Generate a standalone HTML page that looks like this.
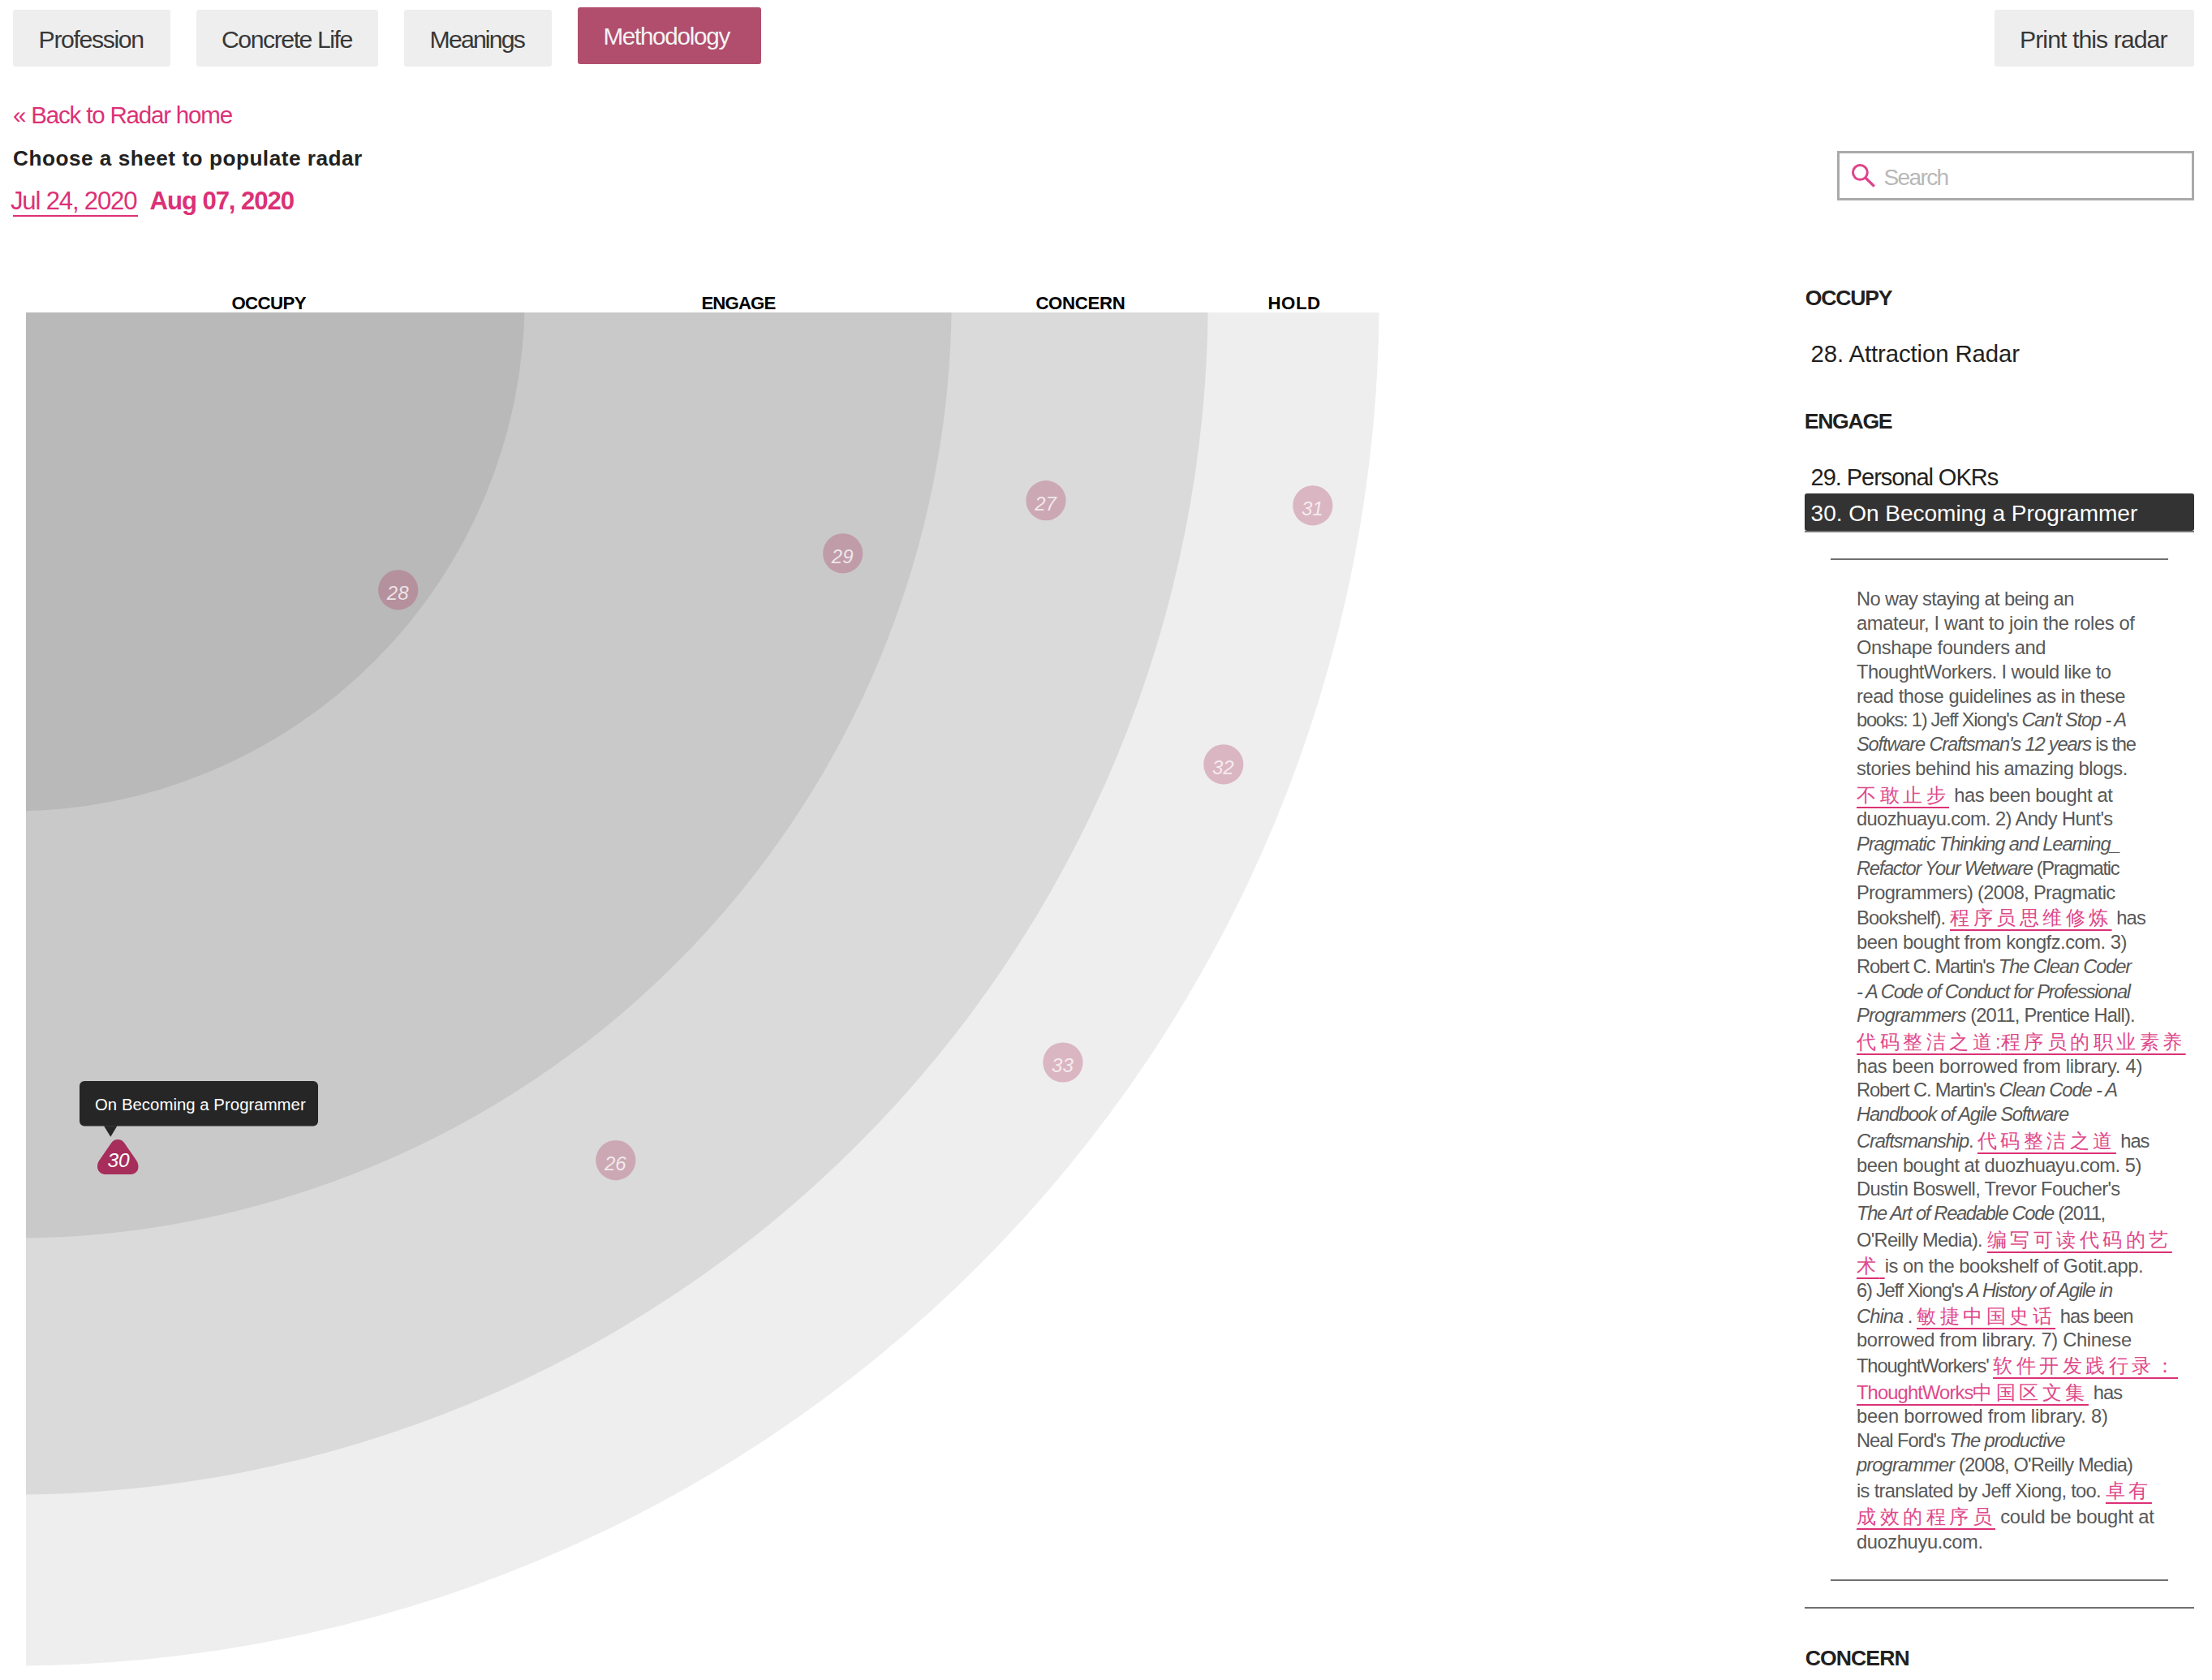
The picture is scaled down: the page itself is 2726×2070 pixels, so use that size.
<!DOCTYPE html>
<html><head><meta charset="utf-8"><title>Radar</title><style>
html,body{margin:0;padding:0;background:#fff;}
body{width:2726px;height:2070px;position:relative;overflow:hidden;font-family:"Liberation Sans",sans-serif;}
.box{position:absolute;box-sizing:border-box;}
.t{position:absolute;white-space:nowrap;font-family:"Liberation Sans",sans-serif;}
.d{font-size:23.69px;line-height:23.69px;color:#585858;}
.d i{font-style:italic;}
.d a{color:#e0488a;text-decoration:underline;text-decoration-color:#dc3176;text-decoration-thickness:2px;text-underline-offset:6px;}
.d .c{letter-spacing:4.5px!important;}
</style></head>
<body>
<div class="box" style="left:16px;top:12px;width:194px;height:70px;background:#eeeeee;border-radius:3px"></div>
<div class="box" style="left:242px;top:12px;width:224px;height:70px;background:#eeeeee;border-radius:3px"></div>
<div class="box" style="left:498px;top:12px;width:182px;height:70px;background:#eeeeee;border-radius:3px"></div>
<div class="box" style="left:712px;top:9px;width:226px;height:70px;background:#b14e6e;border-radius:3px"></div>
<div class="box" style="left:2458px;top:12px;width:246px;height:70px;background:#eeeeee;border-radius:3px"></div>
<div class="t" style="letter-spacing:-1.367px;left:47.60px;top:34.20px;font-size:30.23px;line-height:30.23px;color:#383838;font-weight:400;font-style:normal;">Profession</div>
<div class="t" style="letter-spacing:-1.458px;left:273.00px;top:34.20px;font-size:30.23px;line-height:30.23px;color:#383838;font-weight:400;font-style:normal;">Concrete Life</div>
<div class="t" style="letter-spacing:-1.829px;left:529.60px;top:34.20px;font-size:30.23px;line-height:30.23px;color:#383838;font-weight:400;font-style:normal;">Meanings</div>
<div class="t" style="letter-spacing:-1.290px;left:743.39px;top:30.20px;font-size:29.65px;line-height:29.65px;color:#f4f4f4;font-weight:400;font-style:normal;">Methodology</div>
<div class="t" style="letter-spacing:-0.933px;left:2489.00px;top:34.20px;font-size:30.23px;line-height:30.23px;color:#383838;font-weight:400;font-style:normal;">Print this radar</div>
<div class="t" style="letter-spacing:-1.179px;left:16.00px;top:127.20px;font-size:29.51px;line-height:29.51px;color:#dc3176;font-weight:400;font-style:normal;">&laquo; Back to Radar home</div>
<div class="t" style="letter-spacing:0.503px;left:16.00px;top:182.20px;font-size:26.20px;line-height:26.20px;color:#222;font-weight:700;font-style:normal;">Choose a sheet to populate radar</div>
<div class="t" style="letter-spacing:-1.182px;left:13.00px;top:232.20px;font-size:31.11px;line-height:31.11px;color:#dc3176;font-weight:400;font-style:normal;">Jul 24, 2020</div>
<div class="box" style="left:16px;top:265px;width:154px;height:2px;background:#dc3176"></div>
<div class="t" style="letter-spacing:-1.073px;left:184.60px;top:232.20px;font-size:31.11px;line-height:31.11px;color:#dc3176;font-weight:700;font-style:normal;">Aug 07, 2020</div>
<div class="box" style="left:2264px;top:186px;width:440px;height:61px;border:3px solid #aaaaaa;background:#fff"></div>
<svg class="box" style="left:2270px;top:190px" width="60" height="50" viewBox="2270 190 60 50"><circle cx="2292.4" cy="212.4" r="8.9" fill="none" stroke="#e0438a" stroke-width="3"/><line x1="2298.6" y1="218.8" x2="2309.8" y2="229.6" stroke="#e0438a" stroke-width="3.4"/></svg>
<div class="t" style="letter-spacing:-1.620px;left:2321.39px;top:205.20px;font-size:28.05px;line-height:28.05px;color:#b8b8b8;font-weight:400;font-style:normal;">Search</div>
<svg class="box" style="left:0;top:0" width="2726" height="2070" viewBox="0 0 2726 2070">
<defs><clipPath id="q"><rect x="32" y="385" width="2694" height="1685"/></clipPath></defs><g clip-path="url(#q)">
<circle cx="15" cy="368" r="1684.6" fill="#eeeeee"/>
<circle cx="15" cy="368" r="1473.7" fill="#dadada"/>
<circle cx="15" cy="368" r="1157.7" fill="#c9c9c9"/>
<circle cx="15" cy="368" r="631.6" fill="#b9b9b9"/>
</g>
<circle cx="490.7" cy="726.8" r="24.6" fill="rgb(172,52,92)" fill-opacity="0.3"/>
<text x="490.2" y="739.0" text-anchor="middle" font-family="Liberation Sans" font-style="italic" font-size="24" fill="#fff" fill-opacity="0.75">28</text>
<circle cx="1038.7" cy="681.8" r="24.6" fill="rgb(172,52,92)" fill-opacity="0.3"/>
<text x="1038.2" y="694.0" text-anchor="middle" font-family="Liberation Sans" font-style="italic" font-size="24" fill="#fff" fill-opacity="0.75">29</text>
<circle cx="1289" cy="616.7" r="24.6" fill="rgb(172,52,92)" fill-opacity="0.3"/>
<text x="1288.5" y="628.9000000000001" text-anchor="middle" font-family="Liberation Sans" font-style="italic" font-size="24" fill="#fff" fill-opacity="0.75">27</text>
<circle cx="1617.8" cy="622.8" r="24.6" fill="rgb(172,52,92)" fill-opacity="0.3"/>
<text x="1617.3" y="635.0" text-anchor="middle" font-family="Liberation Sans" font-style="italic" font-size="24" fill="#fff" fill-opacity="0.75">31</text>
<circle cx="1507.8" cy="941.8" r="24.6" fill="rgb(172,52,92)" fill-opacity="0.3"/>
<text x="1507.3" y="954.0" text-anchor="middle" font-family="Liberation Sans" font-style="italic" font-size="24" fill="#fff" fill-opacity="0.75">32</text>
<circle cx="1309.9" cy="1309" r="24.6" fill="rgb(172,52,92)" fill-opacity="0.3"/>
<text x="1309.4" y="1321.2" text-anchor="middle" font-family="Liberation Sans" font-style="italic" font-size="24" fill="#fff" fill-opacity="0.75">33</text>
<circle cx="758.8" cy="1429.6" r="24.6" fill="rgb(172,52,92)" fill-opacity="0.3"/>
<text x="758.3" y="1441.8" text-anchor="middle" font-family="Liberation Sans" font-style="italic" font-size="24" fill="#fff" fill-opacity="0.75">26</text>
<path d="M137,1408.5 C141,1402.6 149.4,1402.6 153.4,1408.5 L168.2,1430 C172.4,1436.5 171.5,1447 160,1447 L131,1447 C119.5,1447 118,1436.5 122.2,1430 Z" fill="#a72d5a"/>
<text x="146.05" y="1438.3" text-anchor="middle" font-family="Liberation Sans" font-style="italic" font-size="24.5" fill="#fff">30</text>
<rect x="98" y="1332" width="294" height="55.6" rx="6" fill="#262626"/>
<path d="M128,1387.2 L144.4,1387.2 L136.3,1400.8 Z" fill="#262626"/>
</svg>
<div class="t" style="letter-spacing:0.035px;left:117.00px;top:1351.20px;font-size:20.35px;line-height:20.35px;color:#ffffff;font-weight:400;font-style:normal;">On Becoming a Programmer</div>
<div class="t" style="letter-spacing:-0.540px;left:285.39px;top:363.20px;font-size:22.20px;line-height:22.20px;color:#000;font-weight:700;font-style:normal;">OCCUPY</div>
<div class="t" style="letter-spacing:-0.840px;left:864.39px;top:363.20px;font-size:22.20px;line-height:22.20px;color:#000;font-weight:700;font-style:normal;">ENGAGE</div>
<div class="t" style="letter-spacing:-0.283px;left:1276.39px;top:363.20px;font-size:22.20px;line-height:22.20px;color:#000;font-weight:700;font-style:normal;">CONCERN</div>
<div class="t" style="letter-spacing:0.633px;left:1562.39px;top:363.20px;font-size:22.20px;line-height:22.20px;color:#000;font-weight:700;font-style:normal;">HOLD</div>
<div class="t" style="letter-spacing:-1.200px;left:2224.79px;top:354.20px;font-size:26.60px;line-height:26.60px;color:#231f20;font-weight:700;font-style:normal;">OCCUPY</div>
<div class="t" style="letter-spacing:-0.111px;left:2231.60px;top:421.20px;font-size:29.36px;line-height:29.36px;color:#231f20;font-weight:400;font-style:normal;">28. Attraction Radar</div>
<div class="t" style="letter-spacing:-1.300px;left:2223.79px;top:506.20px;font-size:26.60px;line-height:26.60px;color:#231f20;font-weight:700;font-style:normal;">ENGAGE</div>
<div class="t" style="letter-spacing:-1.075px;left:2231.60px;top:574.20px;font-size:29.07px;line-height:29.07px;color:#231f20;font-weight:400;font-style:normal;">29. Personal OKRs</div>
<div class="box" style="left:2224px;top:654px;width:480px;height:2px;background:#777"></div>
<div class="box" style="left:2224px;top:608px;width:480px;height:46px;background:#333;border-radius:3px"></div>
<div class="t" style="letter-spacing:-0.041px;left:2231.60px;top:619.20px;font-size:28.05px;line-height:28.05px;color:#fff;font-weight:400;font-style:normal;">30. On Becoming a Programmer</div>
<div class="box" style="left:2256px;top:688px;width:416px;height:2px;background:#707070"></div>
<div class="box" style="left:2256px;top:1946px;width:416px;height:2px;background:#707070"></div>
<div class="box" style="left:2224px;top:1980px;width:480px;height:2px;background:#707070"></div>
<div class="t" style="letter-spacing:-0.933px;left:2224.79px;top:2030.20px;font-size:26.60px;line-height:26.60px;color:#231f20;font-weight:700;font-style:normal;">CONCERN</div>

<div class="t d" style="letter-spacing:-0.644px;left:2288.00px;top:727.20px">No way staying at being an</div>
<div class="t d" style="letter-spacing:-0.360px;left:2288.00px;top:757.20px">amateur, I want to join the roles of</div>
<div class="t d" style="letter-spacing:-0.395px;left:2288.00px;top:787.20px">Onshape founders and</div>
<div class="t d" style="letter-spacing:-0.580px;left:2288.00px;top:817.20px">ThoughtWorkers. I would like to</div>
<div class="t d" style="letter-spacing:-0.466px;left:2288.00px;top:847.20px">read those guidelines as in these</div>
<div class="t d" style="letter-spacing:-1.239px;left:2288.00px;top:876.20px">books: 1) Jeff Xiong's <i>Can't Stop - A</i></div>
<div class="t d" style="letter-spacing:-1.180px;left:2288.00px;top:906.20px"><i>Software Craftsman's 12 years</i> is the</div>
<div class="t d" style="letter-spacing:-0.500px;left:2288.00px;top:936.20px">stories behind his amazing blogs.</div>
<div class="t d" style="letter-spacing:-0.428px;left:2288.00px;top:969.20px"><a><span class="c">不敢止步</span></a> has been bought at</div>
<div class="t d" style="letter-spacing:-0.625px;left:2288.00px;top:998.20px">duozhuayu.com. 2) Andy Hunt's</div>
<div class="t d" style="letter-spacing:-1.135px;left:2288.00px;top:1029.20px"><i>Pragmatic Thinking and Learning_</i></div>
<div class="t d" style="letter-spacing:-1.310px;left:2288.00px;top:1059.20px"><i>Refactor Your Wetware</i> (Pragmatic</div>
<div class="t d" style="letter-spacing:-0.686px;left:2288.00px;top:1089.20px">Programmers) (2008, Pragmatic</div>
<div class="t d" style="letter-spacing:-0.840px;left:2288.00px;top:1120.20px">Bookshelf). <a><span class="c">程序员思维修炼</span></a> has</div>
<div class="t d" style="letter-spacing:-0.477px;left:2288.00px;top:1150.20px">been bought from kongfz.com. 3)</div>
<div class="t d" style="letter-spacing:-1.152px;left:2288.00px;top:1180.20px">Robert C. Martin's <i>The Clean Coder</i></div>
<div class="t d" style="letter-spacing:-1.314px;left:2288.00px;top:1211.20px"><i>- A Code of Conduct for Professional</i></div>
<div class="t d" style="letter-spacing:-0.824px;left:2288.00px;top:1240.20px"><i>Programmers</i> (2011, Prentice Hall).</div>
<div class="t d" style="left:2288.0px;top:1273.20px"><a><span class="c">代码整洁之道</span>:<span class="c">程序员的职业素养</span></a></div>
<div class="t d" style="letter-spacing:-0.242px;left:2288.00px;top:1303.20px">has been borrowed from library. 4)</div>
<div class="t d" style="letter-spacing:-1.113px;left:2288.00px;top:1332.20px">Robert C. Martin's <i>Clean Code - A</i></div>
<div class="t d" style="letter-spacing:-1.228px;left:2288.00px;top:1362.20px"><i>Handbook of Agile Software</i></div>
<div class="t d" style="letter-spacing:-1.133px;left:2288.00px;top:1395.20px"><i>Craftsmanship</i>. <a><span class="c">代码整洁之道</span></a> has</div>
<div class="t d" style="letter-spacing:-0.474px;left:2288.00px;top:1425.20px">been bought at duozhuayu.com. 5)</div>
<div class="t d" style="letter-spacing:-0.658px;left:2288.00px;top:1454.20px">Dustin Boswell, Trevor Foucher's</div>
<div class="t d" style="letter-spacing:-1.307px;left:2288.00px;top:1484.20px"><i>The Art of Readable Code</i> (2011,</div>
<div class="t d" style="letter-spacing:-0.719px;left:2288.00px;top:1517.20px">O'Reilly Media). <a><span class="c">编写可读代码的艺</span></a></div>
<div class="t d" style="letter-spacing:-0.448px;left:2288.00px;top:1549.20px"><a><span class="c">术</span> </a>is on the bookshelf of Gotit.app.</div>
<div class="t d" style="letter-spacing:-1.228px;left:2288.00px;top:1579.20px">6) Jeff Xiong's <i>A History of Agile in</i></div>
<div class="t d" style="letter-spacing:-0.950px;left:2288.00px;top:1611.20px"><i>China</i> . <a><span class="c">敏捷中国史话</span></a> has been</div>
<div class="t d" style="letter-spacing:-0.334px;left:2288.00px;top:1640.20px">borrowed from library. 7) Chinese</div>
<div class="t d" style="letter-spacing:-1.107px;left:2288.00px;top:1672.20px">ThoughtWorkers' <a><span class="c">软件开发践行录：</span></a></div>
<div class="t d" style="letter-spacing:-0.847px;left:2288.00px;top:1705.20px"><a>ThoughtWorks<span class="c">中国区文集</span></a> has</div>
<div class="t d" style="letter-spacing:-0.197px;left:2288.00px;top:1734.20px">been borrowed from library. 8)</div>
<div class="t d" style="letter-spacing:-1.048px;left:2288.00px;top:1764.20px">Neal Ford's <i>The productive</i></div>
<div class="t d" style="letter-spacing:-0.881px;left:2288.00px;top:1794.20px"><i>programmer</i> (2008, O'Reilly Media)</div>
<div class="t d" style="letter-spacing:-0.682px;left:2288.00px;top:1826.20px">is translated by Jeff Xiong, too. <a><span class="c">卓有</span></a></div>
<div class="t d" style="letter-spacing:-0.317px;left:2288.00px;top:1858.20px"><a><span class="c">成效的程序员</span></a> could be bought at</div>
<div class="t d" style="letter-spacing:-0.383px;left:2288.00px;top:1889.20px">duozhuyu.com.</div>
</body></html>
